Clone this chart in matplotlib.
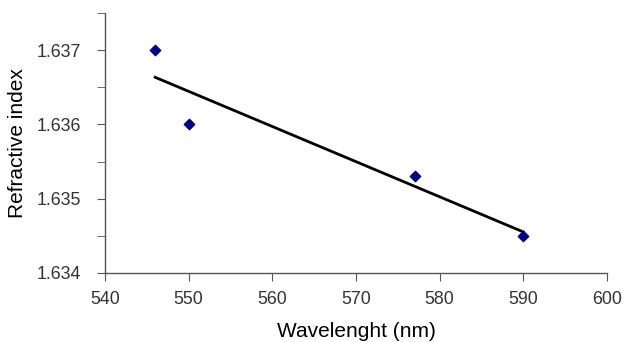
import numpy as np
import matplotlib
matplotlib.use("Agg")
import matplotlib.pyplot as plt
from matplotlib.ticker import MultipleLocator, FormatStrFormatter

plt.rcParams['font.family'] = ['Liberation Sans', 'DejaVu Sans']

wavelength = [546, 550, 577, 590]
refractive_index = [1.6370, 1.6360, 1.6353, 1.6345]

fig = plt.figure(figsize=(6.29, 3.42), dpi=100)
ax = fig.add_axes([105/629, 1 - 273/342, (607-105)/629, (273-13)/342])

ax.scatter(wavelength, refractive_index, marker='D', s=28, color='#000080', zorder=3)

coef = np.polyfit(wavelength, refractive_index, 1)
xs = np.array([min(wavelength), max(wavelength)])
ax.plot(xs, np.polyval(coef, xs), color='black', lw=2, zorder=2)

ax.set_xlim(540, 600)
ax.set_ylim(1.634, 1.6375)
ax.xaxis.set_major_locator(MultipleLocator(10))
ax.yaxis.set_major_locator(MultipleLocator(0.001))
ax.yaxis.set_minor_locator(MultipleLocator(0.0005))
ax.yaxis.set_major_formatter(FormatStrFormatter('%.3f'))

for s in ['top', 'right']:
    ax.spines[s].set_visible(False)
for s in ['left', 'bottom']:
    ax.spines[s].set_color('#555555')
    ax.spines[s].set_linewidth(1)

ax.tick_params(axis='both', which='both', direction='out', color='#555555', labelsize=12.8, labelcolor='#333333')
ax.tick_params(axis='y', which='major', length=6, pad=11)
ax.tick_params(axis='y', which='minor', length=6)
ax.tick_params(axis='x', which='major', length=6, pad=7)

ax.set_xlabel('Wavelenght (nm)', fontsize=15, labelpad=10)
ax.set_ylabel('Refractive index', fontsize=15, labelpad=7)

fig.savefig('out.png', dpi=100)
